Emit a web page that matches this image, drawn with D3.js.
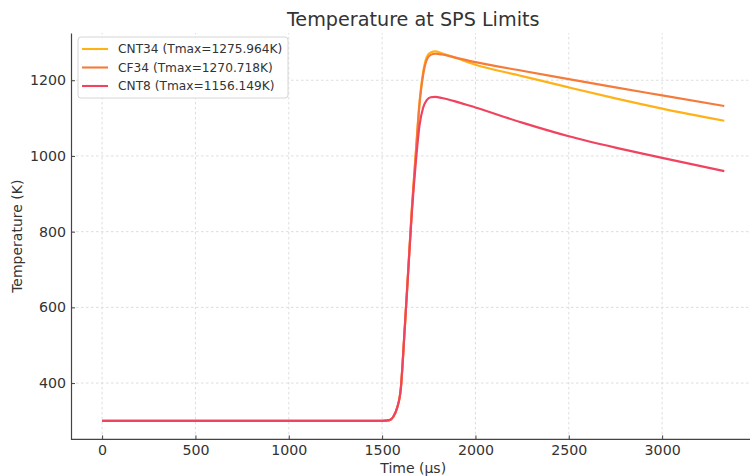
<!DOCTYPE html>
<html>
<head>
<meta charset="utf-8">
<script src="https://cdn.jsdelivr.net/npm/d3@7"></script>
<style>
  body { margin: 0; background: #fff; }
  text { font-family: "DejaVu Sans", sans-serif; fill: #333; }
</style>
</head>
<body>
<div id="chart"></div>
<script>
const times = [0, 1500, 1540, 1560, 1580, 1600, 1620, 1640, 1660, 1680, 1700, 1720, 1740, 1760, 1785, 1820, 1900, 2000, 2250, 2500, 2750, 3000, 3333];
const cnt34 = [300, 300, 302, 311, 334, 385, 535, 700, 865, 1005, 1140, 1222, 1262, 1273, 1276, 1271, 1258, 1241, 1211, 1181, 1152, 1125, 1093];
const cf34 = [300, 300, 302, 311, 334, 385, 535, 700, 865, 1003, 1135, 1215, 1255, 1267, 1270, 1268, 1259, 1248, 1225, 1203, 1181, 1160, 1132];
const cnt8 = [300, 300, 302, 311, 334, 385, 535, 695, 855, 980, 1080, 1128, 1148, 1155, 1156, 1153, 1143, 1128, 1088, 1052, 1022, 995, 960];
const seriesNames = ["CNT34 (Tmax=1275.964K)", "CF34 (Tmax=1270.718K)", "CNT8 (Tmax=1156.149K)"];
const xTicks = [0, 500, 1000, 1500, 2000, 2500, 3000];
const yTicks = [400, 600, 800, 1000, 1200];

const colors = ["#ffb217", "#f57b3b", "#f0435f"];
const width = 750, height = 476;

const series = [cnt34, cf34, cnt8].map((vals, i) => ({
  name: seriesNames[i],
  color: colors[i],
  points: vals.map((v, j) => [times[j], v]),
}));

// matplotlib-like 5% margins on the data
const tMax = d3.max(times);
const vMin = d3.min([cnt34, cf34, cnt8].flat());
const vMax = d3.max([cnt34, cf34, cnt8].flat());
const x = d3.scaleLinear()
  .domain([-0.05 * tMax, tMax * 1.05])
  .range([71, 755.4]);
const y = d3.scaleLinear()
  .domain([vMin - 0.05 * (vMax - vMin), vMax + 0.05 * (vMax - vMin)])
  .range([439.4, 33]);

const svg = d3.select("#chart").append("svg")
  .attr("width", width)
  .attr("height", height);

const [x0, x1] = x.range();
const [y0, y1] = y.range();

// grid
const grid = svg.append("g").attr("stroke", "#d4d4d4").attr("stroke-width", 0.8).attr("stroke-dasharray", "2.5,2.5");
grid.selectAll(".gx").data(xTicks).join("line")
  .attr("x1", d => x(d)).attr("x2", d => x(d))
  .attr("y1", y0).attr("y2", y1);
grid.selectAll(".gy").data(yTicks).join("line")
  .attr("x1", x0).attr("x2", x1)
  .attr("y1", d => y(d)).attr("y2", d => y(d));

// axes
const fmt = d3.format("d");
const xAxis = svg.append("g")
  .attr("transform", `translate(0,${y0})`)
  .call(d3.axisBottom(x).tickValues(xTicks).tickFormat(fmt).tickSizeInner(-4).tickSizeOuter(0).tickPadding(6));
const yAxis = svg.append("g")
  .attr("transform", `translate(${x0},0)`)
  .call(d3.axisLeft(y).tickValues(yTicks).tickFormat(fmt).tickSizeInner(-4).tickSizeOuter(0).tickPadding(5));
[xAxis, yAxis].forEach(a => {
  a.select(".domain").attr("stroke", "#444").attr("stroke-width", 1.2);
  a.selectAll(".tick line").attr("stroke", "#444").attr("stroke-width", 1);
  a.selectAll(".tick text").attr("font-size", 14.2).attr("fill", "#333");
});
xAxis.select(".domain").attr("d", `M${x0},0H${width + 10}`);

// lines
const line = d3.line()
  .x(d => x(d[0]))
  .y(d => y(d[1]))
  .curve(d3.curveMonotoneX);
svg.append("g").selectAll("path").data(series).join("path")
  .attr("d", d => line(d.points))
  .attr("fill", "none")
  .attr("stroke", d => d.color)
  .attr("stroke-width", 2.2)
  .attr("stroke-linejoin", "round");

// titles
svg.append("text")
  .attr("x", (x0 + x1) / 2).attr("y", 26)
  .attr("text-anchor", "middle")
  .attr("font-size", 19.2)
  .text("Temperature at SPS Limits");
svg.append("text")
  .attr("x", (x0 + x1) / 2).attr("y", 473)
  .attr("text-anchor", "middle")
  .attr("font-size", 14)
  .text("Time (µs)");
svg.append("text")
  .attr("transform", `translate(22,${(y0 + y1) / 2}) rotate(-90)`)
  .attr("text-anchor", "middle")
  .attr("font-size", 14)
  .text("Temperature (K)");

// legend
const legend = svg.append("g").attr("transform", "translate(78,37)");
legend.append("rect")
  .attr("width", 210).attr("height", 61).attr("rx", 3)
  .attr("fill", "#fff").attr("fill-opacity", 0.8)
  .attr("stroke", "#d6d6d6").attr("stroke-width", 1);
const rows = legend.selectAll(".row").data(series).join("g")
  .attr("transform", (d, i) => `translate(0,${12 + i * 18.5})`);
rows.append("line")
  .attr("x1", 4).attr("x2", 30)
  .attr("stroke", d => d.color).attr("stroke-width", 2.1);
rows.append("text")
  .attr("x", 40).attr("dy", "0.35em")
  .attr("font-size", 12.2)
  .text(d => d.name);
</script>
</body>
</html>
